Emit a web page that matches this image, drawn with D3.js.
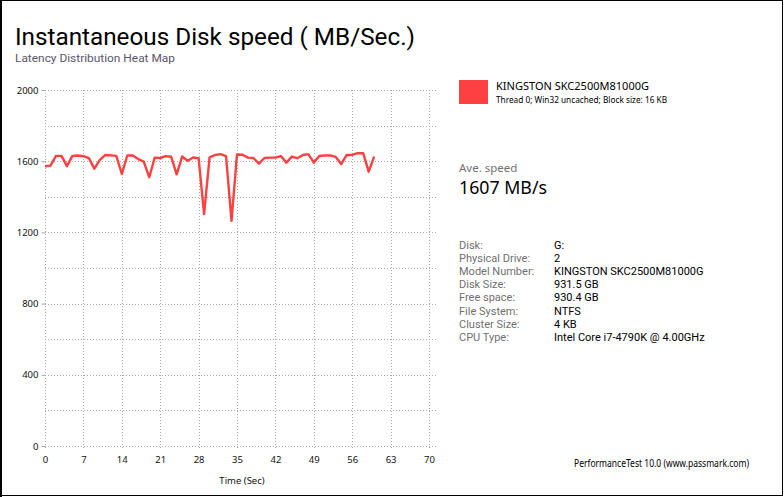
<!DOCTYPE html>
<html><head><meta charset="utf-8">
<script src="https://cdn.jsdelivr.net/npm/d3@7"></script>
<style>
html,body{margin:0;padding:0;background:#fff;}
svg{display:block;font-family:"Noto Sans","Open Sans",sans-serif;}
</style></head>
<body><svg id="c" width="784" height="497"></svg>
<script>
const times = d3.range(0, 61);
const speeds = [1572,1575,1630,1630,1572,1630,1632,1628,1617,1558,
                1607,1635,1633,1630,1528,1632,1632,1612,1598,1510,
                1620,1618,1628,1625,1526,1626,1603,1621,1617,1303,
                1621,1635,1640,1628,1265,1638,1636,1620,1618,1586,
                1618,1620,1620,1629,1592,1626,1617,1635,1640,1592,
                1629,1632,1633,1624,1584,1635,1635,1645,1645,1541,1626];
const xTicks = [0,7,14,21,28,35,42,49,56,63,70];
const yGrid = [0,200,400,600,800,1000,1200,1400,1600,1800,2000];
const yLabels = [0,400,800,1200,1600,2000];
const infoLabels = ["Disk:","Physical Drive:","Model Number:","Disk Size:","Free space:","File System:","Cluster Size:","CPU Type:"];
const infoValues = ["G:","2","KINGSTON SKC2500M81000G","931.5 GB","930.4 GB","NTFS","4 KB","Intel Core i7-4790K @ 4.00GHz"];
const seriesName = "KINGSTON SKC2500M81000G";
const seriesDesc = "Thread 0; Win32 uncached; Block size: 16 KB";
const aveSpeed = "1607 MB/s";

const svg = d3.select("#c");
const x = d3.scaleLinear().domain([0,70]).range([45,429]);
const y = d3.scaleLinear().domain([0,2000]).range([446,90]);
const gridRight = 437;
const red = "#ff4040";
const RB = "Roboto, 'Noto Sans', sans-serif";

// border
svg.append("rect").attr("x",0.5).attr("y",0.5).attr("width",782).attr("height",495)
  .attr("fill","none").attr("stroke","#000").attr("stroke-width",1);
svg.append("line").attr("x1",1).attr("x2",1).attr("y1",0).attr("y2",497).attr("stroke","#000").attr("stroke-width",2);

function fit(sel, w){ sel.attr("textLength", w).attr("lengthAdjust","spacingAndGlyphs"); return sel; }

fit(svg.append("text").attr("x",15).attr("y",45).attr("font-size",24).attr("font-family",RB).attr("fill","#000")
  .text("Instantaneous Disk speed ( MB/Sec.)"), 400);
fit(svg.append("text").attr("x",15).attr("y",62).attr("font-size",11.5).attr("font-family",RB).attr("fill","#5a5668")
  .text("Latency Distribution Heat Map"), 160);

// grid
const g = svg.append("g");
g.selectAll(".hg").data(yGrid).join("line")
  .attr("x1",x(0)).attr("x2",gridRight).attr("y1",d=>Math.round(y(d))+0.5).attr("y2",d=>Math.round(y(d))+0.5)
  .attr("stroke","#a8a8a8").attr("stroke-dasharray","1,2");
g.selectAll(".vg").data(xTicks).join("line")
  .attr("x1",d=>Math.round(x(d))+0.5).attr("x2",d=>Math.round(x(d))+0.5).attr("y1",y(2000)).attr("y2",y(0)+4)
  .attr("stroke","#a8a8a8").attr("stroke-dasharray","1,2");

// axes
const yAxis = d3.axisLeft(y).tickValues(yLabels).tickSize(4).tickPadding(3).tickFormat(d3.format("d"));
const ya = svg.append("g").attr("transform",`translate(${Math.round(x(0))+0.5},0)`).call(yAxis);
ya.select(".domain").remove();
ya.selectAll("line").attr("stroke","#a8a8a8");
ya.selectAll("text").attr("font-size",9.5).attr("fill","#111").attr("font-family","'Noto Sans',sans-serif");

const xAxis = d3.axisBottom(x).tickValues(xTicks).tickSize(0).tickPadding(10);
const xa = svg.append("g").attr("transform",`translate(0,${y(0)})`).call(xAxis);
xa.select(".domain").remove();
xa.selectAll("text").attr("font-size",9.5).attr("fill","#111").attr("font-family","'Noto Sans',sans-serif");

svg.append("text").attr("x",242).attr("y",484).attr("text-anchor","middle").attr("font-size",9.5).attr("fill","#111").text("Time (Sec)");

// line
const line = d3.line().x((d,i)=>x(times[i])).y(d=>y(d));
svg.append("path").datum(speeds).attr("d",line).attr("fill","none")
  .attr("stroke",red).attr("stroke-width",2.4).attr("stroke-linejoin","round");

// legend
svg.append("rect").attr("x",459).attr("y",80).attr("width",29).attr("height",24).attr("fill",red);
fit(svg.append("text").attr("x",496).attr("y",90).attr("font-size",11.5).attr("fill","#000").text(seriesName),153);
fit(svg.append("text").attr("x",496).attr("y",103).attr("font-size",9).attr("fill","#000").text(seriesDesc),171);

svg.append("text").attr("x",459).attr("y",172).attr("font-size",11.5).attr("fill","#707070").text("Ave. speed");
fit(svg.append("text").attr("x",459).attr("y",194).attr("font-size",18.5).attr("fill","#000").text(aveSpeed),88);

const info = svg.append("g").attr("font-family",RB);
info.selectAll(".il").data(infoLabels).join("text")
  .attr("x",459).attr("y",(d,i)=>249+i*13.1).attr("font-size",11).attr("fill","#707070").text(d=>d);
info.selectAll(".iv").data(infoValues).join("text")
  .attr("x",554).attr("y",(d,i)=>249+i*13.1).attr("font-size",11).attr("fill","#000").text(d=>d);

fit(svg.append("text").attr("x",574).attr("y",467).attr("font-size",10).attr("fill","#000")
  .text("PerformanceTest 10.0 (www.passmark.com)"),175);
</script></body></html>
